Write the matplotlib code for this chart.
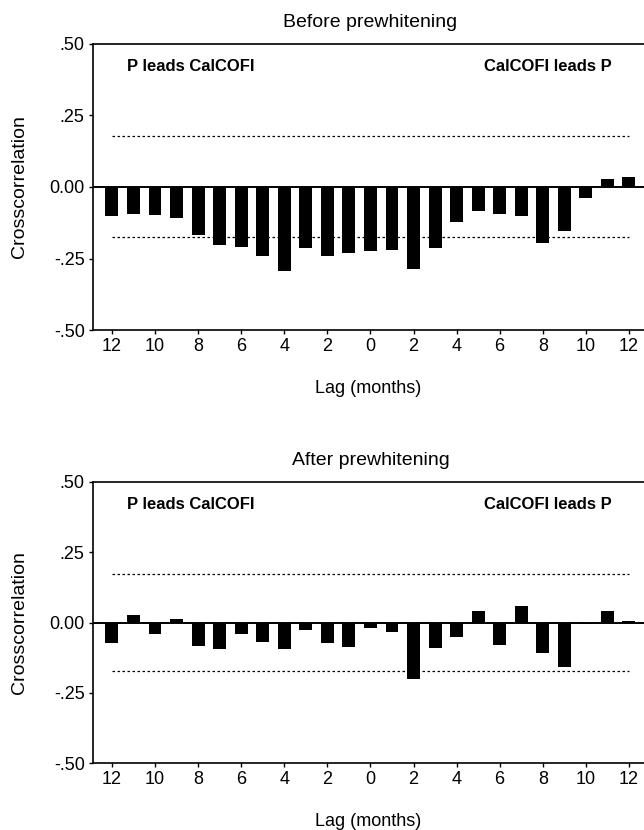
import numpy as np
import matplotlib
matplotlib.use("Agg")
import matplotlib.pyplot as plt

plt.rcParams['font.family'] = ['Liberation Sans', 'DejaVu Sans']

# lags -12 .. 12
lags = list(range(-12, 13))
tick_lags = list(range(-12, 13, 2))
tick_labels = [str(abs(t)) for t in tick_lags]
y_ticks = [-0.50, -0.25, 0.00, 0.25, 0.50]
y_labels = ['-.50', '-.25', '0.00', '.25', '.50']

# crosscorrelation before prewhitening
before = [-0.103, -0.096, -0.099, -0.109, -0.168, -0.202, -0.209, -0.242, -0.293,
          -0.214, -0.241, -0.232, -0.223, -0.221, -0.288, -0.212, -0.121, -0.085,
          -0.095, -0.101, -0.196, -0.154, -0.038, 0.029, 0.034]
before_bounds = [0.178, -0.175]

# crosscorrelation after prewhitening
after = [-0.072, 0.027, -0.041, 0.012, -0.083, -0.095, -0.041, -0.070, -0.095,
         -0.027, -0.072, -0.087, -0.021, -0.035, -0.201, -0.091, -0.053, 0.040,
         -0.081, 0.058, -0.108, -0.157, -0.006, 0.042, 0.006]
after_bounds = [0.172, -0.171]


def draw_panel(ax, vals, bounds, title):
    ax.bar(lags, vals, width=0.6, color='black', zorder=3)
    ax.axhline(0, color='black', lw=1.4, zorder=2)
    for b in bounds:
        ax.plot([-12, 12], [b, b], color='black', lw=0.9, linestyle=(0, (2, 2)))
    ax.set_xlim(-12.88, 12.7)
    ax.set_ylim(-0.5, 0.5)
    ax.set_xticks(tick_lags)
    ax.set_xticklabels(tick_labels)
    ax.set_yticks(y_ticks)
    ax.set_yticklabels(y_labels)
    ax.tick_params(direction='out', length=3, width=1, labelsize=13, pad=3)
    ax.spines['right'].set_visible(False)
    for s in ['left', 'bottom', 'top']:
        ax.spines[s].set_linewidth(1.2)
    ax.set_ylabel('Crosscorrelation', fontsize=14)
    ax.yaxis.set_label_coords(-0.118, 0.5)
    ax.set_xlabel('Lag (months)', fontsize=13, labelpad=18)
    ax.text(0, 0.545, title, fontsize=14, ha='center', va='bottom')
    ax.text(-11.3, 0.42, 'P leads CalCOFI', fontsize=12, fontweight='bold',
            ha='left', va='center')
    ax.text(11.2, 0.42, 'CalCOFI leads P', fontsize=12, fontweight='bold',
            ha='right', va='center')


fig = plt.figure(figsize=(6.44, 8.30), dpi=100)
ax1 = fig.add_axes([0.1444, 0.6024, 0.8556, 0.3446])
ax2 = fig.add_axes([0.1444, 0.0807, 0.8556, 0.3386])

draw_panel(ax1, before, before_bounds, 'Before prewhitening')
draw_panel(ax2, after, after_bounds, 'After prewhitening')

fig.savefig('out.png', dpi=100)
